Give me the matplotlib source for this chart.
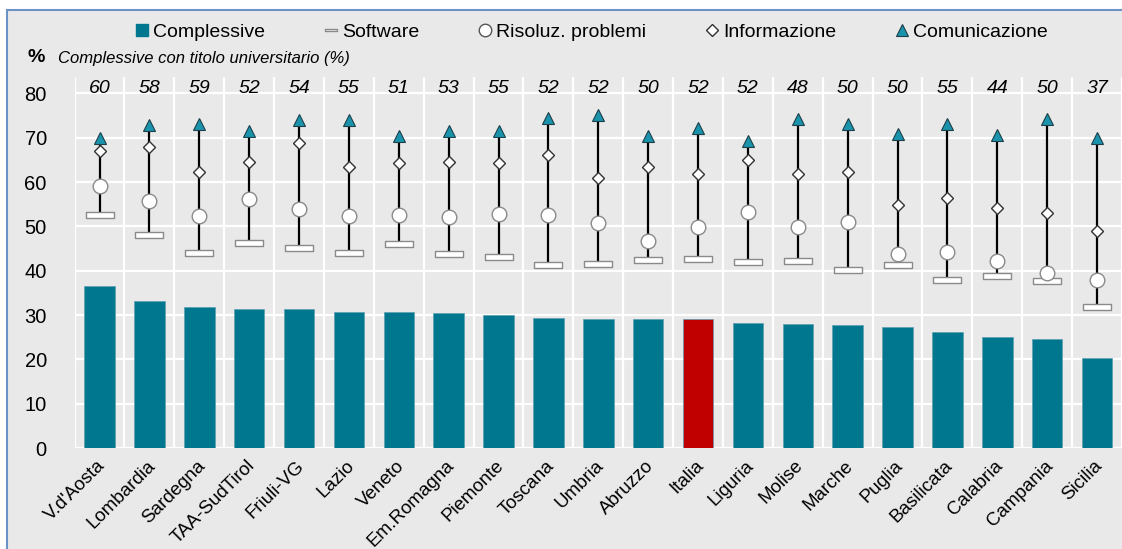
import matplotlib.pyplot as plt
import numpy as np
from matplotlib.patches import Rectangle
from matplotlib.lines import Line2D
from matplotlib.path import Path

plt.rcParams['font.family'] = ['Liberation Sans', 'DejaVu Sans']

regioni = ["V.d'Aosta", "Lombardia", "Sardegna", "TAA-SudTirol", "Friuli-VG", "Lazio",
           "Veneto", "Em.Romagna", "Piemonte", "Toscana", "Umbria", "Abruzzo", "Italia",
           "Liguria", "Molise", "Marche", "Puglia", "Basilicata", "Calabria", "Campania",
           "Sicilia"]
complessive = [36.6, 33.1, 31.9, 31.4, 31.3, 30.7, 30.6, 30.4, 30.0, 29.3, 29.2, 29.1,
               29.1, 28.3, 27.9, 27.8, 27.4, 26.1, 25.0, 24.5, 20.3]
software = [52.6, 48.1, 43.9, 46.3, 45.1, 44.0, 46.0, 43.8, 43.1, 41.2, 41.6, 42.5,
            42.6, 41.9, 42.3, 40.1, 41.3, 37.9, 38.9, 37.7, 31.8]
problemi = [59.2, 55.7, 52.3, 56.1, 54.0, 52.4, 52.6, 52.1, 52.7, 52.6, 50.8, 46.8,
            49.9, 53.2, 49.9, 50.9, 43.8, 44.2, 42.3, 39.5, 37.8]
informazione = [67.0, 68.0, 62.3, 64.6, 68.7, 63.5, 64.2, 64.5, 64.2, 66.0, 61.0, 63.3,
                61.8, 65.0, 61.8, 62.3, 54.9, 56.3, 54.1, 53.0, 48.9]
comunicazione = [70.0, 72.9, 73.0, 71.6, 74.0, 73.9, 70.3, 71.6, 71.5, 74.5, 75.1, 70.3,
                 72.1, 69.2, 74.2, 73.0, 70.8, 73.1, 70.6, 74.2, 70.0]
laureati = [60, 58, 59, 52, 54, 55, 51, 53, 55, 52, 52, 50, 52, 52, 48, 50, 50, 55, 44, 50, 37]

teal = '#00768f'
tri_col = '#1a93ad'
bg = '#e9e9e9'

# marker rettangolare per "Software"
rect_marker = Path([(-1, -0.22), (1, -0.22), (1, 0.22), (-1, 0.22), (-1, -0.22)],
                   [Path.MOVETO, Path.LINETO, Path.LINETO, Path.LINETO, Path.CLOSEPOLY])

fig = plt.figure(figsize=(11.22, 5.49), dpi=100)
fig.patch.set_facecolor('white')
fig.patches.append(Rectangle((7 / 1122, -0.01), 1.0, 1 - 10 / 549 + 0.01,
                             transform=fig.transFigure, facecolor=bg,
                             edgecolor='#6b93c8', linewidth=1.5, zorder=-1))

ax = fig.add_axes([74.6 / 1122, 101 / 549, 1 - 74.6 / 1122, 371 / 549])
ax.set_facecolor(bg)
x = np.arange(len(regioni))

colori = ['#c00000' if r == 'Italia' else teal for r in regioni]
ax.bar(x, complessive, width=0.61, color=colori, edgecolor='#5c9fb0', linewidth=0.5, zorder=2)
ax.vlines(x, software, comunicazione, color='black', linewidth=1.6, zorder=3)
ax.plot(x, software, linestyle='none', marker=rect_marker, markersize=19.5,
        markerfacecolor='white', markeredgecolor='#8a8a8a', markeredgewidth=1, zorder=4)
ax.plot(x, problemi, linestyle='none', marker='o', markersize=10.5,
        markerfacecolor='white', markeredgecolor='#8a8a8a', markeredgewidth=1, zorder=4)
ax.plot(x, informazione, linestyle='none', marker='D', markersize=6.6,
        markerfacecolor='white', markeredgecolor='#333333', markeredgewidth=1, zorder=4)
ax.plot(x, comunicazione, linestyle='none', marker='^', markersize=8.5,
        markerfacecolor=tri_col, markeredgecolor='#1d3f48', markeredgewidth=0.8, zorder=4)

for xi, v in zip(x, laureati):
    ax.text(xi, 81.0, str(v), ha='center', va='center', fontsize=14, style='italic')

ax.set_xlim(-0.5, (1122 - 74.6) / 50.1 - 0.5)
ax.set_ylim(0, 83.7)
ax.set_yticks(np.arange(0, 81, 10))
ax.set_xticks(x + 0.06)
ax.set_xticks(np.arange(-0.5, 21, 1), minor=True)
ax.set_xticklabels(regioni, rotation=45, ha='right', va='center', rotation_mode='anchor',
                   fontsize=13.5)
ax.tick_params(axis='x', which='both', length=0, pad=11)
ax.tick_params(axis='y', length=0, pad=20, labelsize=14.5)
ax.grid(axis='y', color='white', linewidth=1.6)
ax.grid(axis='x', which='minor', color='white', linewidth=1.6)
ax.grid(axis='x', which='major', visible=False)
ax.set_axisbelow(True)
for s in ax.spines.values():
    s.set_visible(False)

fig.text(27 / 1122, 1 - 58 / 549, '%', fontsize=14, fontweight='bold', va='center')
fig.text(58 / 1122, 1 - 58 / 549, 'Complessive con titolo universitario (%)', fontsize=12,
         style='italic', va='center')

handles = [
    Line2D([], [], linestyle='none', marker='s', markersize=9, markerfacecolor=teal,
           markeredgecolor=teal),
    Line2D([], [], linestyle='none', marker=rect_marker, markersize=9, markerfacecolor='white',
           markeredgecolor='#8a8a8a'),
    Line2D([], [], linestyle='none', marker='o', markersize=9, markerfacecolor='white',
           markeredgecolor='#555555'),
    Line2D([], [], linestyle='none', marker='D', markersize=6.5, markerfacecolor='white',
           markeredgecolor='#333333'),
    Line2D([], [], linestyle='none', marker='^', markersize=8, markerfacecolor=tri_col,
           markeredgecolor='#1d3f48', markeredgewidth=0.8),
]
labels = ['Complessive', 'Software', 'Risoluz. problemi', 'Informazione', 'Comunicazione']
fig.legend(handles, labels, loc='center', bbox_to_anchor=(591 / 1122, 1 - 32 / 549), ncol=5,
           frameon=False, fontsize=14, handlelength=0.8, handletextpad=0.15,
           columnspacing=3.0)

fig.savefig('out.png', dpi=100, facecolor=fig.get_facecolor())
